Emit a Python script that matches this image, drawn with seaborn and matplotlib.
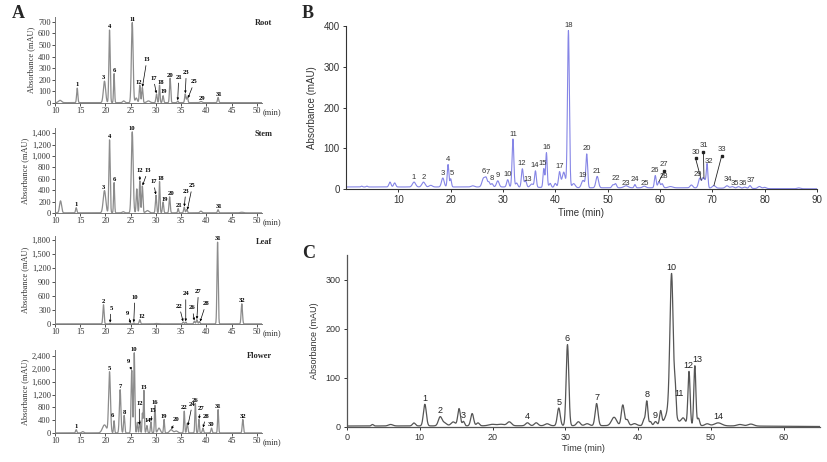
import numpy as np
import pandas as pd
import matplotlib
matplotlib.use("Agg")
import matplotlib.pyplot as plt
import seaborn as sns

sns.set_style("ticks")
plt.rcParams['font.family'] = ['Liberation Sans', 'DejaVu Sans']

# ---------------- DATA ----------------
# Panel A peaks: retention time (min), height (mAU), half-width (min)
root_t = [11.0, 14.4, 19.8, 20.8, 21.7, 23.6, 25.3, 26.1, 26.8, 27.3, 28.5, 30.1, 30.7, 31.4, 32.8, 34.3, 35.8, 36.2, 38.9, 42.3]
root_h = [20, 125, 185, 625, 250, 15, 690, 40, 150, 130, 15, 75, 150, 60, 210, 15, 75, 50, 10, 45]
root_w = [0.3, 0.12, 0.22, 0.13, 0.1, 0.2, 0.17, 0.2, 0.12, 0.12, 0.3, 0.12, 0.1, 0.12, 0.12, 0.1, 0.12, 0.12, 0.2, 0.12]
root_lab = [("1", 14.4), ("3", 19.6), ("4", 20.8), ("6", 21.7), ("11", 25.3), ("12", 26.6),
            ("13", 28.2, 350, 27.3), ("17", 29.5, 190, 30.1), ("18", 30.9), ("19", 31.6, 80),
            ("20", 32.8), ("21", 34.5, 200, 34.3), ("23", 36.0, 240, 35.8), ("25", 37.6, 160, 36.3),
            ("29", 39.2, 20), ("31", 42.4)]

stem_t = [11.1, 14.2, 19.8, 20.8, 21.7, 23.5, 25.3, 26.2, 26.8, 27.3, 28.3, 30.0, 30.7, 31.4, 32.7, 34.4, 35.6, 36.1, 38.9, 42.3, 47.0]
stem_h = [210, 90, 390, 1280, 530, 20, 1420, 420, 560, 470, 40, 310, 550, 190, 280, 75, 100, 60, 30, 55, 10]
stem_w = [0.2, 0.12, 0.25, 0.13, 0.1, 0.2, 0.18, 0.12, 0.11, 0.12, 0.3, 0.12, 0.1, 0.12, 0.12, 0.1, 0.12, 0.12, 0.2, 0.12, 0.3]
stem_lab = [("1", 14.2), ("3", 19.6), ("4", 20.8), ("6", 21.7), ("10", 25.3), ("12", 26.8, 700, 26.8),
            ("13", 28.4, 700, 27.3), ("17", 29.5, 500, 30.0), ("18", 30.9), ("19", 31.8, 200),
            ("20", 32.9), ("21", 34.6, 90), ("23", 35.9, 340, 35.6), ("25", 37.2, 430, 36.2), ("31", 42.4)]

leaf_t = [19.6, 20.9, 24.8, 25.6, 26.8, 30.0, 35.4, 35.9, 37.6, 38.1, 38.6, 42.2, 47.0]
leaf_h = [410, 15, 12, 20, 90, 8, 40, 40, 60, 90, 50, 1750, 430]
leaf_w = [0.12, 0.1, 0.1, 0.1, 0.12, 0.3, 0.12, 0.1, 0.12, 0.12, 0.12, 0.12, 0.13]
leaf_lab = [("2", 19.6), ("5", 21.1, 280, 20.9), ("9", 24.4, 180, 25.0), ("10", 25.8, 520, 25.6),
            ("12", 27.2, 110), ("22", 34.6, 330, 35.4), ("24", 35.9, 590, 35.9), ("26", 37.2, 290, 37.6),
            ("27", 38.4, 640, 38.1), ("28", 39.9, 380, 38.7), ("31", 42.2), ("32", 47.0)]

flower_t = [14.2, 15.5, 19.8, 20.8, 21.7, 22.9, 23.7, 25.2, 25.7, 26.3, 26.8, 27.3, 27.6, 28.2, 29.0, 29.8, 30.6,
            31.6, 33.0, 34.0, 35.6, 36.2, 37.8, 38.5, 39.3, 41.0, 42.3, 47.2]
flower_h = [100, 40, 250, 1900, 380, 1350, 550, 1950, 2500, 330, 380, 600, 1330, 230, 350, 860, 150,
            420, 100, 60, 680, 300, 920, 420, 150, 150, 730, 420]
flower_w = [0.12, 0.2, 0.4, 0.18, 0.1, 0.15, 0.12, 0.13, 0.11, 0.1, 0.1, 0.08, 0.1, 0.12, 0.1, 0.1, 0.25,
            0.1, 0.3, 0.3, 0.1, 0.12, 0.1, 0.1, 0.12, 0.12, 0.1, 0.12]
flower_lab = [("1", 14.2), ("5", 20.8), ("6", 21.4, 480), ("7", 22.9), ("8", 23.7), ("9", 24.5, 2150, 25.2),
              ("10", 25.7), ("12", 26.7, 850, 26.7), ("13", 27.6), ("14", 28.4, 300), ("15", 29.3, 620, 29.0),
              ("16", 29.8), ("19", 31.6), ("20", 34.0, 330, 33.0), ("22", 35.6), ("24", 37.2, 820, 36.3),
              ("26", 37.8), ("27", 38.9, 680, 38.5), ("28", 39.9, 450, 39.3), ("30", 41.0), ("31", 42.3), ("32", 47.2)]

# Panel B peaks
b_t = [3.0, 4.0, 8.4, 9.3, 13.0, 14.8, 16.2, 18.5, 19.5, 20.0, 24.2, 26.3, 26.8, 27.3, 27.9, 29.0, 30.9, 31.9,
       32.6, 33.7, 34.3, 35.5, 36.2, 37.8, 38.3, 39.0, 40.0, 40.8, 41.6, 42.5, 43.5, 45.3, 46.0, 48.0, 51.0,
       51.5, 53.5, 55.2, 57.0, 59.1, 59.8, 60.4, 62.0, 66.0, 67.6, 68.2, 68.6, 69.0, 70.3, 72.8, 73.8, 75.0,
       76.2, 77.2, 79.0, 80.0, 86.5]
b_h = [2, 2, 12, 10, 12, 12, 4, 22, 55, 20, 3, 22, 18, 12, 8, 15, 18, 118,
       10, 45, 16, 8, 40, 46, 85, 10, 10, 38, 38, 385, 10, 18, 82, 28, 7,
       10, 5, 8, 4, 30, 15, 10, 3, 7, 24, 22, 16, 58, 6, 6, 4, 4,
       3, 7, 5, 3, 2]
b_w = [0.15, 0.15, 0.2, 0.2, 0.3, 0.3, 0.3, 0.25, 0.15, 0.15, 0.3, 0.3, 0.2, 0.2, 0.2, 0.25, 0.2, 0.17,
       0.2, 0.18, 0.2, 0.3, 0.17, 0.15, 0.15, 0.2, 0.2, 0.2, 0.3, 0.18, 0.3, 0.3, 0.17, 0.25, 0.2,
       0.2, 0.4, 0.15, 0.3, 0.17, 0.2, 0.2, 0.4, 0.25, 0.25, 0.2, 0.2, 0.15, 0.3, 0.3, 0.3, 0.3,
       0.3, 0.2, 0.3, 0.3, 0.3]
b_base_t = [0, 30, 45, 65, 80, 90]
b_base_v = [5, 5, 3, 3, 1, 0.5]
b_lab = [("1", 13.0), ("2", 14.8), ("3", 18.5), ("4", 19.5), ("5", 20.2), ("6", 26.4), ("7", 27.1), ("8", 27.9),
         ("9", 29.0), ("10", 30.8), ("11", 31.9), ("12", 33.6), ("13", 34.8, 14), ("14", 36.0), ("15", 37.6),
         ("16", 38.3), ("17", 40.9), ("18", 42.5), ("19", 45.2), ("20", 46.0), ("21", 48.0), ("22", 51.5),
         ("23", 53.4, 6), ("24", 55.2), ("25", 57.1, 5), ("26", 59.0), ("27", 60.8, 44, 59.8), ("28", 60.8, 22),
         ("29", 67.2, 28), ("30", 66.8, 75, 67.9), ("31", 68.3, 92, 68.4), ("32", 69.3, 60), ("33", 71.8, 82, 70.3),
         ("34", 72.9, 14), ("35", 74.3, 6), ("36", 75.8, 6), ("37", 77.4, 12)]

# Panel C peaks
c_t = [3.5, 6.0, 9.2, 10.7, 12.8, 13.4, 14.6, 15.4, 16.0, 17.2, 18.0, 20.0, 21.2, 22.3, 24.8, 26.0, 27.5,
       29.1, 30.3, 31.8, 33.0, 34.3, 36.7, 37.9, 38.5, 39.5, 40.8, 41.2, 41.7, 42.4, 43.1, 44.5, 44.6, 45.1,
       46.2, 47.0, 47.8, 48.3, 49.5, 51.0, 54.0, 55.5]
c_h = [3, 3, 6, 44, 18, 6, 8, 35, 9, 25, 6, 3, 3, 8, 6, 6, 4,
       36, 165, 8, 4, 45, 17, 42, 12, 4, 12, 50, 8, 8, 28, 40, 270, 50,
       15, 110, 122, 15, 4, 6, 3, 4]
c_w = [0.15, 0.3, 0.2, 0.2, 0.25, 0.3, 0.3, 0.18, 0.15, 0.2, 0.2, 0.5, 0.4, 0.3, 0.25, 0.25, 0.3,
       0.2, 0.18, 0.25, 0.3, 0.2, 0.35, 0.2, 0.2, 0.3, 0.15, 0.15, 0.15, 0.2, 0.15, 0.6, 0.22, 0.12,
       0.3, 0.15, 0.14, 0.15, 0.3, 0.5, 0.4, 0.4]
c_base_t = [0, 45, 55, 65]
c_base_v = [2, 3, 2, 1]
c_lab = [("1", 10.7), ("2", 12.8), ("3", 16.0), ("4", 24.8), ("5", 29.1), ("6", 30.3), ("7", 34.3),
         ("8", 41.2), ("9", 42.4), ("10", 44.6), ("11", 45.6, 58), ("12", 46.9), ("13", 48.1, 128), ("14", 51.0)]


def trace(x, t, h, w, base=0.0):
    y = np.zeros_like(x) + base
    for ti, hi, wi in zip(t, h, w):
        y = y + hi * np.exp(-0.5 * ((x - ti) / wi) ** 2)
    return y


def label_peaks(ax, x, y, labels, fs, color, family, weight, pad, lw, style="arrow"):
    for item in labels:
        txt, tt = item[0], item[1]
        if len(item) == 2:
            m = (x > tt - 0.3) & (x < tt + 0.3)
            yy = y[m].max()
            ax.annotate(txt, (tt, yy), xytext=(0, pad), textcoords="offset points",
                        ha="center", va="bottom", fontsize=fs, color=color,
                        family=family, weight=weight)
        elif len(item) == 3:
            ax.text(tt, item[2], txt, ha="center", va="bottom", fontsize=fs, color=color,
                    family=family, weight=weight)
        else:
            at = item[3]
            ya = np.interp(at, x, y)
            if style == "arrow":
                ax.annotate(txt, (at, ya), xytext=(tt, item[2]), textcoords="data",
                            ha="center", va="bottom", fontsize=fs, color=color,
                            family=family, weight=weight,
                            arrowprops=dict(arrowstyle="-|>", lw=lw, color="black",
                                            mutation_scale=3, shrinkA=0, shrinkB=0.5))
            else:
                ax.annotate(txt, (tt, item[2]), xytext=(0, 2), textcoords="offset points",
                            ha="center", va="bottom", fontsize=fs, color=color,
                            family=family, weight=weight)
                ax.plot([tt, at], [item[2], ya], color="#222222", lw=lw)
                ax.plot([tt], [item[2]], marker="s", ms=1.8, color="#222222")


fig = plt.figure(figsize=(8.27, 4.62), dpi=100)
W, H = 827.0, 462.0

def axes_px(l, t, r, b):
    return fig.add_axes([l / W, 1 - b / H, (r - l) / W, (b - t) / H])

serif = ['Liberation Serif', 'DejaVu Serif']

# ---------------- Panel A ----------------
xa = np.linspace(10, 51, 4000)
a_specs = [
    ("Root", root_t, root_h, root_w, root_lab, 17, 103, 740, np.arange(0, 701, 100), 3),
    ("Stem", stem_t, stem_h, stem_w, stem_lab, 128, 213, 1490, np.arange(0, 1401, 200), 3),
    ("Leaf", leaf_t, leaf_h, leaf_w, leaf_lab, 236, 324, 1885, np.arange(0, 1801, 300), 3),
    ("Flower", flower_t, flower_h, flower_w, flower_lab, 350, 433, 2590, np.arange(0, 2401, 400), 3),
]
for name, t, h, w, lab, top, bot, ymax, yt, base in a_specs:
    ax = axes_px(55, top, 262, bot)
    y = trace(xa, t, h, w, base)
    df = pd.DataFrame({"t": xa, "a": y})
    sns.lineplot(data=df, x="t", y="a", ax=ax, color="#8c8c8c", lw=0.9, estimator=None)
    ax.set_xlim(10, 51)
    ax.set_ylim(0, ymax)
    ax.set_xticks(np.arange(10, 51, 5))
    ax.set_yticks(yt)
    ax.set_yticklabels([f"{v:,}" for v in yt])
    for s in ["top", "right"]:
        ax.spines[s].set_visible(False)
    for s in ["left", "bottom"]:
        ax.spines[s].set_color("#777777")
        ax.spines[s].set_linewidth(0.7)
    ax.tick_params(labelsize=6, length=2, width=0.6, pad=1, colors="#333333")
    for lbl in ax.get_xticklabels() + ax.get_yticklabels():
        lbl.set_family(serif)
    ax.set_xlabel("")
    ax.set_ylabel("Absorbance (mAU)", fontsize=6, family=serif, labelpad=2, color="#333333")
    ax.text(1.05, 0.93, name, transform=ax.transAxes, ha="right", va="center",
            fontsize=6, weight="bold", family=serif)
    ax.text(1.005, -0.06, "(min)", transform=ax.transAxes, ha="left", va="top",
            fontsize=6, family=serif, color="#333333")
    label_peaks(ax, xa, y, lab, 4.8, "black", serif, "bold", 0.5, 0.5)

fig.text(12 / W, 1 - 14 / H, "A", fontsize=13, weight="bold", family=serif, va="center")

# ---------------- Panel B ----------------
axb = axes_px(346, 26, 817, 189)
xb = np.linspace(0, 90, 6000)
yb = trace(xb, b_t, b_h, b_w, np.interp(xb, b_base_t, b_base_v))
sns.lineplot(data=pd.DataFrame({"t": xb, "a": yb}), x="t", y="a", ax=axb,
             color="#8585e6", lw=0.8, estimator=None)
axb.set_xlim(0, 90)
axb.set_ylim(0, 400)
axb.set_xticks(np.arange(10, 91, 10))
axb.set_yticks(np.arange(0, 401, 100))
for s in ["top", "right"]:
    axb.spines[s].set_visible(False)
for s in ["left", "bottom"]:
    axb.spines[s].set_color("#333333")
    axb.spines[s].set_linewidth(0.8)
axb.tick_params(labelsize=7, length=2.5, width=0.7, pad=2, colors="#333333")
axb.set_xlabel("Time (min)", fontsize=7, labelpad=2, color="#333333")
axb.set_ylabel("Absorbance (mAU)", fontsize=7, labelpad=5, color="#333333")
label_peaks(axb, xb, yb, b_lab, 5.5, "#333333", ['Liberation Sans'], "normal", 1.0, 0.6, style="line")
fig.text(302 / W, 1 - 14 / H, "B", fontsize=13, weight="bold", family=serif, va="center")

# ---------------- Panel C ----------------
axc = axes_px(347, 255, 820, 427)
xc = np.linspace(0, 65, 5000)
yc = trace(xc, c_t, c_h, c_w, np.interp(xc, c_base_t, c_base_v))
sns.lineplot(data=pd.DataFrame({"t": xc, "a": yc}), x="t", y="a", ax=axc,
             color="#555555", lw=0.9, estimator=None)
axc.set_xlim(0, 65)
axc.set_ylim(0, 350)
axc.set_xticks(np.arange(0, 61, 10))
axc.set_yticks(np.arange(0, 301, 100))
for s in ["top", "right"]:
    axc.spines[s].set_visible(False)
for s in ["left", "bottom"]:
    axc.spines[s].set_color("#555555")
    axc.spines[s].set_linewidth(0.9)
axc.tick_params(labelsize=6.5, length=2.5, width=0.7, pad=2, colors="#333333")
axc.set_xlabel("Time (min)", fontsize=6.5, labelpad=1, color="#333333")
axc.set_ylabel("Absorbance (mAU)", fontsize=6.5, labelpad=5, color="#333333")
label_peaks(axc, xc, yc, c_lab, 6.5, "#222222", ['Liberation Sans'], "normal", 1.0, 0.6)
fig.text(302 / W, 1 - 253 / H, "C", fontsize=13, weight="bold", family=serif, va="center")

fig.savefig("out.png", dpi=100)
